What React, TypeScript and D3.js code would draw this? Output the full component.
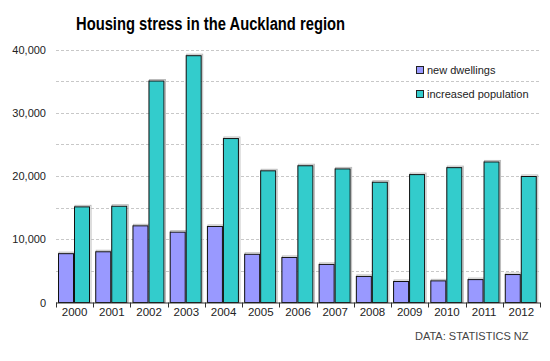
import React from 'react';
import * as d3 from 'd3';

const years = ['2000', '2001', '2002', '2003', '2004', '2005', '2006', '2007', '2008', '2009', '2010', '2011', '2012'];
const newDwellings = [7800, 8100, 12200, 11200, 12100, 7700, 7200, 6100, 4200, 3400, 3500, 3700, 4500];
const increasedPopulation = [15200, 15300, 35100, 39100, 26000, 20900, 21700, 21200, 19100, 20300, 21400, 22300, 20000];
const seriesNames = ['new dwellings', 'increased population'];
const seriesColors = ['#9999ff', '#33cccc'];
const yTicks = [0, 10000, 20000, 30000, 40000];

const W = 550;
const H = 361;
const left = 56;
const right = 540;
const top = 49.5;
const bottom = 302.5;

function App() {
  const x = d3.scaleBand<string>().domain(years).range([left, right]);
  const y = d3.scaleLinear().domain([0, 40000]).range([bottom, top]);
  const grid = d3.range(5000, 40001, 5000);
  const fmt = d3.format(',');
  const bw = x.bandwidth();
  const barW = 16;
  const series = [newDwellings, increasedPopulation];
  const font = '"Liberation Sans", Arial, sans-serif';

  return (
    <svg width={W} height={H} style={{ position: 'absolute', left: 0, top: 0, background: '#fff' }}>
      <text x={76} y={30} fontFamily={font} fontWeight="bold" fontSize={18} fill="#000"
        textLength={269} lengthAdjust="spacingAndGlyphs">
        Housing stress in the Auckland region
      </text>
      {grid.map((g) => (
        <line key={g} x1={left} x2={right - 1} y1={Math.round(y(g)) + 0.5} y2={Math.round(y(g)) + 0.5}
          stroke="#c8c8c8" strokeDasharray="3,2" />
      ))}
      {yTicks.map((t) => (
        <text key={t} x={46} y={y(t) + 4} textAnchor="end" fontFamily={font} fontSize={11} fill="#222">
          {fmt(t)}
        </text>
      ))}
      {years.map((yr, i) => {
        const x0 = (x(yr) as number) + 2;
        return (
          <g key={yr}>
            {series.map((s, j) => {
              const bx = x0 + j * barW;
              const by = y(s[i]);
              return (
                <g key={j}>
                  <rect x={bx + 1} y={by - 1} width={barW} height={bottom - by + 1} fill="none" stroke="#bbb" />
                  <rect x={bx + 0.5} y={by + 0.5} width={barW - 1} height={bottom - by - 0.5}
                    fill={seriesColors[j]} stroke="#111" />
                </g>
              );
            })}
          </g>
        );
      })}
      <line x1={left} x2={right} y1={bottom + 0.5} y2={bottom + 0.5} stroke="#333" />
      {[...years.map((yr) => x(yr) as number), right].map((tx, i) => (
        <line key={i} x1={Math.round(tx) + 0.5} x2={Math.round(tx) + 0.5} y1={bottom} y2={bottom + 5} stroke="#333" />
      ))}
      {years.map((yr) => (
        <text key={yr} x={(x(yr) as number) + bw / 2} y={316} textAnchor="middle" fontFamily={font} fontSize={11.5} fill="#222">
          {yr}
        </text>
      ))}
      {seriesNames.map((n, j) => (
        <g key={n} transform={`translate(416, ${66 + j * 24})`}>
          <rect x={0.5} y={0.5} width={7} height={7} fill={seriesColors[j]} stroke="#222" />
          <text x={11} y={8} fontFamily={font} fontSize={11} fill="#222">{n}</text>
        </g>
      ))}
      <text x={415} y={340} fontFamily={font} fontSize={11} fill="#444">DATA: STATISTICS NZ</text>
    </svg>
  );
}

export default App;
